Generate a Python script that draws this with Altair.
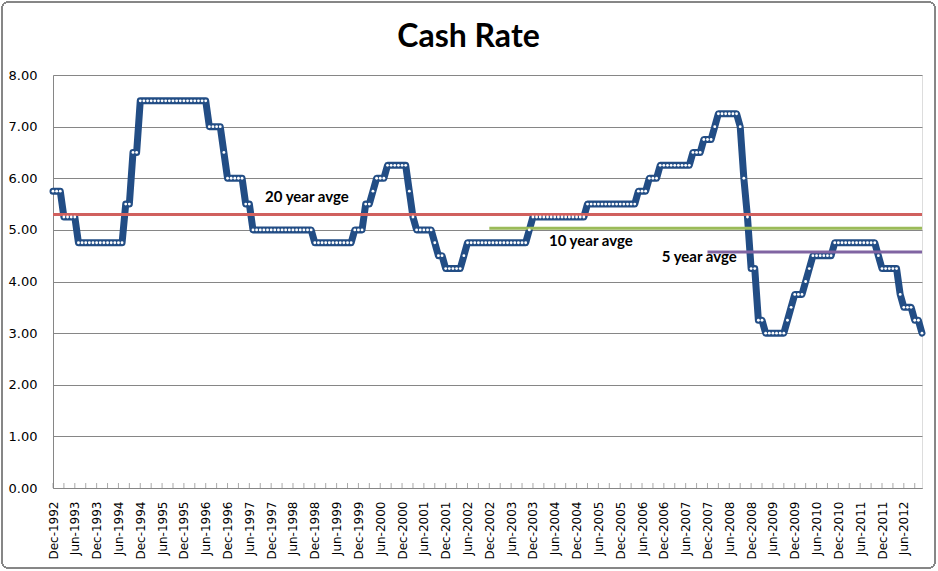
import altair as alt
import pandas as pd

# Monthly cash rate, Dec-1992 .. Nov-2012
v1992 = [5.75]
v1993 = [5.75, 5.75, 5.25, 5.25, 5.25, 5.25, 4.75, 4.75, 4.75, 4.75, 4.75, 4.75]
v1994 = [4.75, 4.75, 4.75, 4.75, 4.75, 4.75, 4.75, 5.50, 5.50, 6.50, 6.50, 7.50]
v1995 = [7.50, 7.50, 7.50, 7.50, 7.50, 7.50, 7.50, 7.50, 7.50, 7.50, 7.50, 7.50]
v1996 = [7.50, 7.50, 7.50, 7.50, 7.50, 7.50, 7.00, 7.00, 7.00, 7.00, 6.50, 6.00]
v1997 = [6.00, 6.00, 6.00, 6.00, 5.50, 5.50, 5.00, 5.00, 5.00, 5.00, 5.00, 5.00]
v1998 = [5.00, 5.00, 5.00, 5.00, 5.00, 5.00, 5.00, 5.00, 5.00, 5.00, 5.00, 4.75]
v1999 = [4.75, 4.75, 4.75, 4.75, 4.75, 4.75, 4.75, 4.75, 4.75, 4.75, 5.00, 5.00]
v2000 = [5.00, 5.50, 5.50, 5.75, 6.00, 6.00, 6.00, 6.25, 6.25, 6.25, 6.25, 6.25]
v2001 = [6.25, 5.75, 5.25, 5.00, 5.00, 5.00, 5.00, 5.00, 4.75, 4.50, 4.50, 4.25]
v2002 = [4.25, 4.25, 4.25, 4.25, 4.50, 4.75, 4.75, 4.75, 4.75, 4.75, 4.75, 4.75]
v2003 = [4.75, 4.75, 4.75, 4.75, 4.75, 4.75, 4.75, 4.75, 4.75, 4.75, 5.00, 5.25]
v2004 = [5.25, 5.25, 5.25, 5.25, 5.25, 5.25, 5.25, 5.25, 5.25, 5.25, 5.25, 5.25]
v2005 = [5.25, 5.25, 5.50, 5.50, 5.50, 5.50, 5.50, 5.50, 5.50, 5.50, 5.50, 5.50]
v2006 = [5.50, 5.50, 5.50, 5.50, 5.75, 5.75, 5.75, 6.00, 6.00, 6.00, 6.25, 6.25]
v2007 = [6.25, 6.25, 6.25, 6.25, 6.25, 6.25, 6.25, 6.50, 6.50, 6.50, 6.75, 6.75]
v2008 = [6.75, 7.00, 7.25, 7.25, 7.25, 7.25, 7.25, 7.25, 7.00, 6.00, 5.25, 4.25]
v2009 = [4.25, 3.25, 3.25, 3.00, 3.00, 3.00, 3.00, 3.00, 3.00, 3.25, 3.50, 3.75]
v2010 = [3.75, 3.75, 4.00, 4.25, 4.50, 4.50, 4.50, 4.50, 4.50, 4.50, 4.75, 4.75]
v2011 = [4.75, 4.75, 4.75, 4.75, 4.75, 4.75, 4.75, 4.75, 4.75, 4.75, 4.50, 4.25]
v2012 = [4.25, 4.25, 4.25, 4.25, 3.75, 3.50, 3.50, 3.50, 3.25, 3.25, 3.00]

rates = (v1992 + v1993 + v1994 + v1995 + v1996 + v1997 + v1998 + v1999 + v2000
         + v2001 + v2002 + v2003 + v2004 + v2005 + v2006 + v2007 + v2008 + v2009
         + v2010 + v2011 + v2012)
n = len(rates)

# Averages (horizontal reference lines)
avg_names = ["20 year avge", "10 year avge", "5 year avge"]
avg_values = [5.30, 5.03, 4.57]
avg_start = [0, 120, 180]          # month index: Dec-1992, Dec-2002, Dec-2007
avg_colors = ["#D0605E", "#9BBB59", "#8064A2"]
label_x = [58.3, 136.4, 167.4]
label_y = [5.64, 4.79, 4.48]

df = pd.DataFrame({"idx": list(range(n)), "rate": rates})
avg_df = pd.DataFrame({"name": avg_names, "value": avg_values, "start": avg_start,
                       "end": [n - 1] * 3, "color": avg_colors,
                       "lx": label_x, "ly": label_y})
tick_df = pd.DataFrame({"idx": list(range(0, n, 3))})

W, H = 869, 413
GRAY = "#868686"

label_expr = ("datum.value % 6 == 0 ? ((datum.value % 12 == 0 ? 'Dec-' : 'Jun-') + "
              "(1992 + floor((datum.value + 6) / 12))) : ''")

x_scale = alt.Scale(domain=[0, n - 1], nice=False, zero=False)
y_scale = alt.Scale(domain=[0, 8], nice=False)

x_axis = alt.Axis(values=list(range(0, n, 6)), labelExpr=label_expr,
                  labelAngle=270, ticks=False, grid=False,
                  domainColor=GRAY, labelFont="DejaVu Sans",
                  labelFontSize=12, labelColor="black",
                  labelPadding=13, labelOverlap=False, labelFlush=False,
                  labelBound=False, title=None)
y_axis = alt.Axis(values=[0, 1, 2, 3, 4, 5, 6, 7, 8], format=".2f",
                  grid=True, gridColor=GRAY, ticks=False,
                  domainColor=GRAY, labelFont="DejaVu Sans",
                  labelFontSize=13, labelColor="black",
                  labelPadding=16, title=None)


def X(field):
    return alt.X(field, scale=x_scale, axis=x_axis)


def Y(field):
    return alt.Y(field, scale=y_scale, axis=y_axis)


frame = alt.Chart(df).mark_rect(fill=None, stroke=GRAY, strokeWidth=1,
                                cornerRadius=6).encode(
    x=alt.value(-51), x2=alt.value(882), y=alt.value(-73), y2=alt.value(493))

line = alt.Chart(df).mark_line(color="#224D85", strokeWidth=7,
                               strokeJoin="round", strokeCap="round").encode(
    x=X("idx:Q"), y=Y("rate:Q"))

ticks = alt.Chart(tick_df).mark_tick(orient="vertical", size=5, thickness=1,
                                     color=GRAY, yOffset=-2.5).encode(
    x=X("idx:Q"), y=alt.datum(0))

rules = alt.Chart(avg_df).mark_rule(strokeWidth=3).encode(
    x=X("start:Q"), x2="end:Q", y=Y("value:Q"),
    color=alt.Color("color:N", scale=None))

points = alt.Chart(df).mark_point(filled=True, color="white", size=8,
                                  opacity=1).encode(
    x=X("idx:Q"), y=Y("rate:Q"))

labels = alt.Chart(avg_df).mark_text(align="left", baseline="middle",
                                     font="Lato", fontWeight="bold",
                                     fontSize=15, color="black").encode(
    x=X("lx:Q"), y=Y("ly:Q"), text="name:N")

chart = alt.layer(line, frame, ticks, rules, points, labels).properties(
    width=W, height=H,
    title=alt.TitleParams("Cash Rate", font="Lato", fontSize=32,
                          fontWeight="bold", color="black", anchor="middle",
                          frame="group", baseline="alphabetic", offset=27,
                          dx=-19, dy=104),
    autosize=alt.AutoSizeParams(type="none"),
    padding={"left": 53, "top": 75, "right": 16, "bottom": 83},
).configure_view(stroke=None).configure(background="white")

chart.save("out.html", embed_options={"renderer": "svg", "actions": False})
